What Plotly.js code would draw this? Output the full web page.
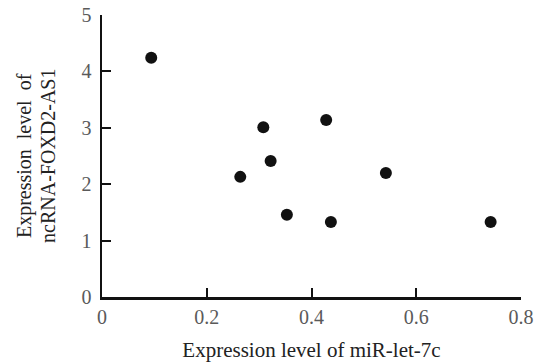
<!DOCTYPE html>
<html>
<head>
<meta charset="utf-8">
<script src="https://cdn.plot.ly/plotly-3.0.1.min.js"></script>
<style>html,body{margin:0;padding:0;background:#fff;}#chart{width:538px;height:363px;}</style>
</head>
<body>
<div id="chart"></div>
<script>
const mirLet7c = [0.094, 0.264, 0.308, 0.322, 0.353, 0.428, 0.437, 0.542, 0.742];
const foxd2as1 = [4.24, 2.13, 3.01, 2.41, 1.46, 3.14, 1.33, 2.20, 1.33];
const xTickVals = [0, 0.2, 0.4, 0.6, 0.8];
const xTickText = ['0', '0.2', '0.4', '0.6', '0.8'];
const yTickVals = [0, 1, 2, 3, 4, 5];
const yTickText = ['0', '1', '2', '3', '4', '5'];
const xTitle = 'Expression level of miR-let-7c';
const yTitleLines = ['Expression\u00A0 level\u00A0 of', 'ncRNA-FOXD2-AS1'];

const serif = 'Liberation Serif';

const trace = {
  x: mirLet7c, y: foxd2as1, type: 'scatter', mode: 'markers',
  marker: {size: 12, color: '#111111'},
  hoverinfo: 'none', showlegend: false
};

const layout = {
  width: 538, height: 363,
  margin: {l: 102, r: 17, t: 15, b: 66, pad: 0},
  paper_bgcolor: '#ffffff', plot_bgcolor: '#ffffff',
  font: {family: serif, size: 20, color: '#5a5a5a'},
  xaxis: {
    range: [0, 0.8], tickmode: 'array', tickvals: xTickVals, ticktext: xTickText,
    showgrid: false, zeroline: false, showline: true,
    linecolor: '#111', linewidth: 2.5,
    ticks: 'inside', ticklen: 9, tickwidth: 2, tickcolor: '#111',
    tickfont: {family: serif, size: 20, color: '#5a5a5a'},
    title: {text: xTitle, font: {family: serif, size: 21, color: '#222'}, standoff: 16},
    fixedrange: true
  },
  yaxis: {
    range: [0, 5], tickmode: 'array', tickvals: yTickVals, ticktext: yTickText,
    showgrid: false, zeroline: false, showline: true,
    linecolor: '#111', linewidth: 2.5,
    ticks: 'inside', ticklen: 9, tickwidth: 2, tickcolor: '#111',
    ticklabelstandoff: 4,
    tickfont: {family: serif, size: 20, color: '#5a5a5a'},
    fixedrange: true
  },
  annotations: [
    {text: yTitleLines[0], xref: 'paper', yref: 'paper', x: -0.186, y: 0.5, xanchor: 'center', yanchor: 'middle',
     textangle: -90, showarrow: false, font: {family: serif, size: 20, color: '#222'}},
    {text: yTitleLines[1], xref: 'paper', yref: 'paper', x: -0.129, y: 0.5, xanchor: 'center', yanchor: 'middle',
     textangle: -90, showarrow: false, font: {family: serif, size: 20, color: '#222'}}
  ]
};

Plotly.newPlot('chart', [trace], layout, {staticPlot: true, displayModeBar: false});
</script>
</body>
</html>
